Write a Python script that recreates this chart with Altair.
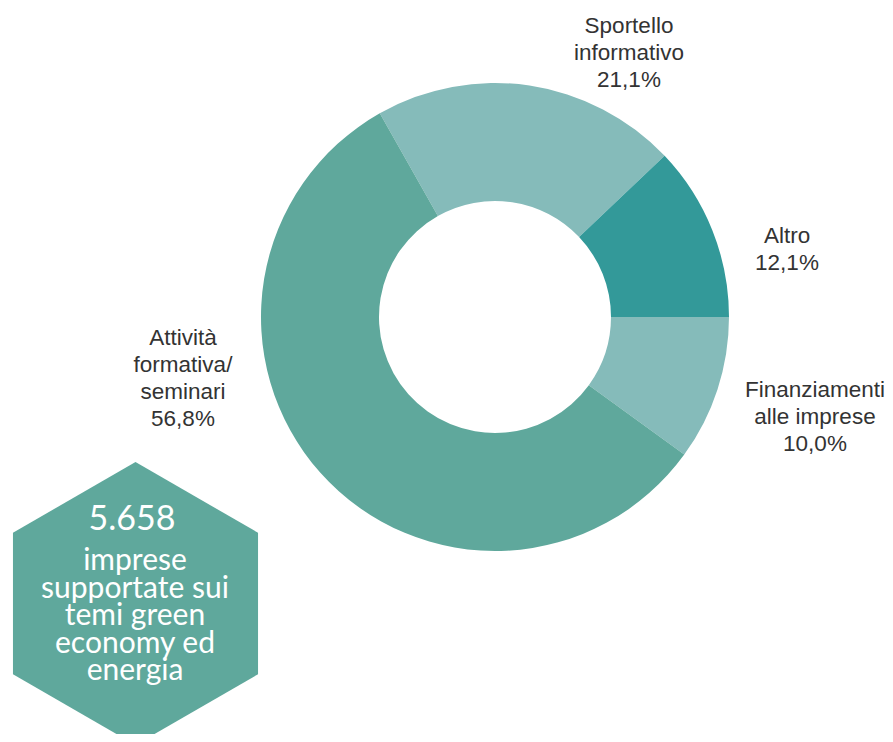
import altair as alt
import pandas as pd
import math

# ---- data ----
categories = ["Sportello informativo", "Altro", "Finanziamenti alle imprese", "Attività formativa/seminari"]
values = [21.1, 12.1, 10.0, 56.8]
order = [1, 2, 3, 4]
colors = ["#85BBBA", "#339999", "#85BBBA", "#5FA89C"]
label_lines = [
    ["Sportello", "informativo", "21,1%"],
    ["Altro", "12,1%"],
    ["Finanziamenti", "alle imprese", "10,0%"],
    ["Attività", "formativa/", "seminari", "56,8%"],
]
total_firms = "5.658"
firms_text = ["imprese", "supportate sui", "temi green", "economy ed", "energia"]

df = pd.DataFrame({"cat": categories, "val": values, "ord": order})

OFF = 8  # page margin
CX, CY = 495 - OFF, 317 - OFF
start = math.radians(-29.5)

arcs = alt.Chart(df).mark_arc(outerRadius=234, innerRadius=116).encode(
    theta=alt.Theta("val:Q", stack=True, scale=alt.Scale(range=[start, start + 2 * math.pi])),
    color=alt.Color("cat:N", scale=alt.Scale(domain=categories, range=colors), legend=None),
    order=alt.Order("ord:Q"),
    x=alt.value(CX),
    y=alt.value(CY),
)

label_pos = [(629, 33), (787, 243), (815, 397), (183, 345)]
layers = [arcs]
for lines, (lx, ly) in zip(label_lines, label_pos):
    t = alt.Chart(pd.DataFrame({"t": [lines]})).mark_text(
        font="Liberation Sans", fontSize=22.5, lineHeight=27, color="#333333",
        align="center", baseline="alphabetic",
    ).encode(text="t", x=alt.value(lx - OFF), y=alt.value(ly - OFF))
    layers.append(t)

hex_path = "M0,-1L0.866,-0.5L0.866,0.5L0,1L-0.866,0.5L-0.866,-0.5Z"
hexagon = alt.Chart(pd.DataFrame({"v": [total_firms]})).mark_point(
    shape=hex_path, filled=True, color="#5FA89C", opacity=1, size=(2 * 141.5) ** 2, strokeWidth=0
).encode(x=alt.value(135.5 - OFF), y=alt.value(603.5 - OFF))
layers.append(hexagon)

big = alt.Chart(pd.DataFrame({"v": [total_firms]})).mark_text(
    font="Lato", fontSize=34, color="white", align="center", baseline="alphabetic"
).encode(text="v", x=alt.value(132 - OFF), y=alt.value(530 - OFF))
layers.append(big)

small = alt.Chart(pd.DataFrame({"t": [firms_text]})).mark_text(
    font="Lato", fontSize=30, lineHeight=27.5, color="white", align="center", baseline="alphabetic"
).encode(text="t", x=alt.value(135 - OFF), y=alt.value(570 - OFF))
layers.append(small)

chart = alt.layer(*layers).properties(
    width=877, height=726, autosize=alt.AutoSizeParams(type="none"), padding=0
).configure_view(strokeWidth=0)

chart.save("out.html", embed_options={"renderer": "svg", "actions": False})
